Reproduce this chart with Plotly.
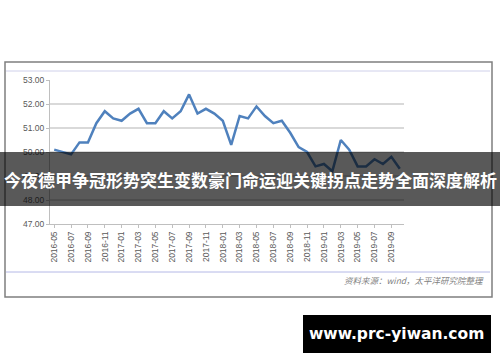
import plotly.graph_objects as go

months = [f"{y}-{m:02d}" for y, ms in [(2016, range(5, 13)), (2017, range(1, 13)), (2018, range(1, 13)), (2019, range(1, 11))] for m in ms]
pmi = [50.1, 50.0, 49.9, 50.4, 50.4, 51.2, 51.7, 51.4,
       51.3, 51.6, 51.8, 51.2, 51.2, 51.7, 51.4, 51.7, 52.4, 51.6, 51.8, 51.6,
       51.3, 50.3, 51.5, 51.4, 51.9, 51.5, 51.2, 51.3, 50.8, 50.2, 50.0, 49.4,
       49.5, 49.2, 50.5, 50.1, 49.4, 49.4, 49.7, 49.5, 49.8, 49.3]
tick_labels = months[::2]
y_ticks = [47, 48, 49, 50, 51, 52, 53]
title_text = "今夜德甲争冠形势突生变数豪门命运迎关键拐点走势全面深度解析"
source_text = "资料来源：wind，太平洋研究院整理"
watermark = "www.prc-yiwan.com"

W, H = 500, 362
L, R, T, B = 50, 96, 80, 138
PW, PH = W - L - R, H - T - B

def px(x):
    return (x - L) / PW

def py(y):
    return (H - B - y) / PH

fig = go.Figure()
fig.add_trace(go.Scatter(x=months, y=pmi, mode="lines",
                         line=dict(color="#4f81bd", width=2.5), hoverinfo="skip"))

shapes = [
    dict(type="rect", xref="paper", yref="paper", x0=px(5), x1=px(492), y0=py(297), y1=py(62),
         line=dict(color="#7f7f7f", width=1.5), layer="below"),
    dict(type="line", xref="paper", yref="paper", x0=px(6), x1=px(490), y0=py(71), y1=py(71),
         line=dict(color="#cfd0ea", width=1), layer="below"),
    dict(type="line", xref="paper", yref="paper", x0=px(6), x1=px(490), y0=py(272), y1=py(272),
         line=dict(color="#b4b8e6", width=1), layer="below"),
    dict(type="rect", xref="paper", yref="paper", x0=px(0), x1=px(500), y0=py(206), y1=py(152),
         fillcolor="rgba(0,0,0,0.65)", line=dict(width=0), layer="above"),
    dict(type="rect", xref="paper", yref="paper", x0=px(303), x1=px(491), y0=py(353), y1=py(315),
         fillcolor="#000000", line=dict(width=0), layer="above"),
]

annotations = [
    dict(text=title_text, xref="paper", yref="paper", x=px(250), y=py(179), showarrow=False,
         xanchor="center", yanchor="middle",
         font=dict(family="Noto Sans CJK SC", size=17, color="white", weight="bold")),
    dict(text=source_text, xref="paper", yref="paper", x=px(486), y=py(280), showarrow=False,
         xanchor="right", yanchor="middle",
         font=dict(family="Noto Sans CJK SC", size=8.5, color="#7f7f7f", style="italic")),
    dict(text=watermark, xref="paper", yref="paper", x=px(396), y=py(334), showarrow=False,
         xanchor="center", yanchor="middle",
         font=dict(family="DejaVu Sans", size=15.5, color="white", weight="bold")),
]

fig.update_layout(
    width=W, height=H, margin=dict(l=L, r=R, t=T, b=B, pad=0),
    paper_bgcolor="white", plot_bgcolor="white", showlegend=False,
    shapes=shapes, annotations=annotations,
    xaxis=dict(type="category", range=[-0.5, len(months) - 0.5], tickmode="array",
               tickvals=tick_labels, ticktext=tick_labels, tickangle=-90,
               ticks="outside", ticklen=3, tickcolor="#bfbfbf", showgrid=False,
               showline=True, linecolor="#bfbfbf", linewidth=1,
               tickfont=dict(family="Liberation Sans", size=8.5, color="#595959")),
    yaxis=dict(range=[47, 53], tickvals=y_ticks, tickformat=".2f", ticks="outside", ticklen=3,
               tickcolor="#bfbfbf", showline=True, linecolor="#bfbfbf", linewidth=1,
               gridcolor="#d9d9d9", gridwidth=1.5, zeroline=False,
               tickfont=dict(family="Liberation Sans", size=8.5, color="#595959")),
)

fig.write_html("out.html")
